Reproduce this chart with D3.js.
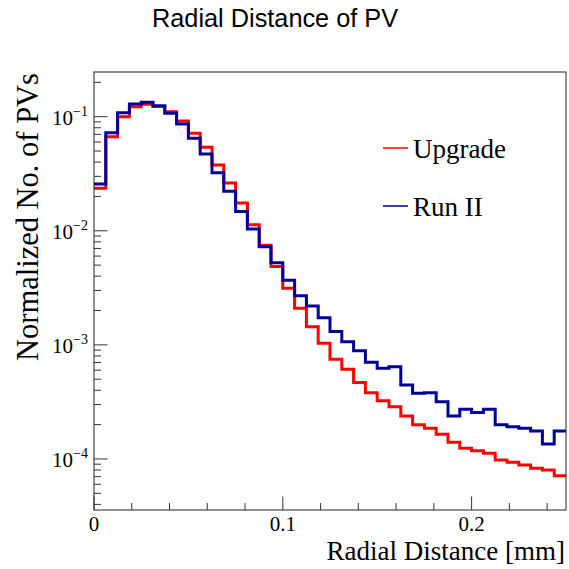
<!DOCTYPE html>
<html><head><meta charset="utf-8">
<script src="https://cdn.jsdelivr.net/npm/d3@7"></script>
<style>
html,body{margin:0;padding:0;background:#fff;}
svg{display:block;}
</style></head>
<body>
<script>
// ---- data ----
const xMin = 0, xMax = 0.25, nBins = 40;
const upgrade = [0.0236,0.0668,0.100,0.1225,0.1285,0.1227,0.1107,0.0917,0.0716,0.0540,
  0.0378,0.0262,0.01754,0.0113,0.00746,0.00486,0.00313,0.00209,0.001445,0.001033,
  0.000748,0.000611,0.000467,0.000381,0.000324,0.000287,0.000238,0.000199,0.000186,0.000165,
  0.000140,0.000124,0.000118,0.000112,0.0000980,0.0000935,0.0000887,0.0000830,0.0000802,0.0000714];
const runII = [0.0257,0.0724,0.1084,0.129,0.1336,0.1247,0.107,0.0863,0.0647,0.0471,
  0.0323,0.0222,0.01476,0.01035,0.00726,0.00525,0.00368,0.00270,0.00219,0.00173,
  0.00131,0.001067,0.000889,0.000704,0.000624,0.000644,0.000445,0.000377,0.000381,0.000318,
  0.000238,0.000273,0.000255,0.000273,0.000199,0.000192,0.000186,0.000176,0.000135,0.000176];
const xMajorTicks = [0, 0.1, 0.2];
const xTickLabels = ["0", "0.1", "0.2"];
const yMajorTicks = [1e-4, 1e-3, 1e-2, 1e-1];
const yTickExponents = ["\u22124", "\u22123", "\u22122", "\u22121"];
const seriesNames = ["Upgrade", "Run II"];
const seriesColors = ["#ff0000", "#000099"];
const title = "Radial Distance of PV";
const xTitle = "Radial Distance [mm]";
const yTitle = "Normalized No. of PVs";
const yDomain = [3.57e-5, 0.2464];

// ---- layout ----
const W = 569, H = 569;
const L = 94, R = 566, T = 72, B = 510;
const serif = "'Liberation Serif','Times New Roman',serif";
const sans = "'Liberation Sans',Arial,Helvetica,sans-serif";

const svg = d3.select("body").append("svg").attr("width", W).attr("height", H);
svg.append("rect").attr("width", W).attr("height", H).attr("fill", "#fff");

const x = d3.scaleLinear().domain([xMin, xMax]).range([L, R]);
const y = d3.scaleLog().domain(yDomain).range([B, T]);

const binW = (xMax - xMin) / nBins;
function pts(vals) {
  const p = vals.map((v, i) => [xMin + i * binW, v]);
  p.push([xMax, vals[vals.length - 1]]);
  return p;
}
const line = d3.line().x(d => x(d[0])).y(d => y(d[1])).curve(d3.curveStepAfter);

const plot = svg.append("g");
plot.append("clipPath").attr("id", "clip").append("rect")
  .attr("x", L).attr("y", T).attr("width", R - L).attr("height", B - T);

[upgrade, runII].forEach((vals, k) => {
  plot.append("path").attr("d", line(pts(vals)))
    .attr("fill", "none").attr("stroke", seriesColors[k]).attr("stroke-width", 3)
    .attr("stroke-linejoin", "miter").attr("clip-path", "url(#clip)");
});

// frame
svg.append("rect").attr("x", L).attr("y", T).attr("width", R - L).attr("height", B - T)
  .attr("fill", "none").attr("stroke", "#222").attr("stroke-width", 1);

const tickColor = "#333";
// x ticks
const xMinor = d3.range(0, 0.2500001, 0.02);
xMinor.forEach(v => {
  const isMajor = xMajorTicks.some(m => Math.abs(m - v) < 1e-9);
  svg.append("line").attr("x1", x(v)).attr("x2", x(v))
    .attr("y1", B).attr("y2", B - (isMajor ? 13.5 : 7))
    .attr("stroke", tickColor).attr("stroke-width", 1);
});
xMajorTicks.forEach((v, i) => {
  svg.append("text").attr("x", x(v)).attr("y", 531)
    .attr("text-anchor", "middle").attr("font-family", serif).attr("font-size", 21)
    .attr("fill", "#000").text(xTickLabels[i]);
});

// y ticks
const yAllTicks = y.ticks();
yAllTicks.forEach(v => {
  if (v < yDomain[0] || v > yDomain[1]) return;
  const isMajor = yMajorTicks.some(m => Math.abs(m - v) / m < 1e-6);
  svg.append("line").attr("x1", L).attr("x2", L + (isMajor ? 13.5 : 7))
    .attr("y1", y(v)).attr("y2", y(v))
    .attr("stroke", tickColor).attr("stroke-width", 1);
});
yMajorTicks.forEach((v, i) => {
  const t = svg.append("text").attr("x", 52).attr("y", y(v) + 8)
    .attr("font-family", serif).attr("font-size", 21).attr("fill", "#000");
  t.append("tspan").text("10");
  t.append("tspan").attr("dy", -9).attr("font-size", 14).text(yTickExponents[i]);
});

// titles
svg.append("text").attr("x", 152).attr("y", 27)
  .attr("font-family", sans).attr("font-size", 25.3).attr("fill", "#000").text(title);
svg.append("text").attr("x", 565).attr("y", 560).attr("text-anchor", "end")
  .attr("font-family", serif).attr("font-size", 27).attr("fill", "#000").text(xTitle);
svg.append("text").attr("transform", "translate(38,73) rotate(-90)")
  .attr("text-anchor", "end")
  .attr("font-family", serif).attr("font-size", 30.5).attr("fill", "#000").text(yTitle);

// legend
const leg = svg.append("g");
leg.append("rect").attr("x", 370).attr("y", 118).attr("width", 147).attr("height", 114)
  .attr("fill", "#fff");
const legY = [148, 206];
seriesNames.forEach((n, k) => {
  leg.append("line").attr("x1", 383).attr("x2", 408).attr("y1", legY[k]).attr("y2", legY[k])
    .attr("stroke", seriesColors[k]).attr("stroke-width", 1.5);
  leg.append("text").attr("x", 413).attr("y", legY[k] + 10)
    .attr("font-family", serif).attr("font-size", 27).attr("fill", "#000").text(n);
});
</script>
</body></html>
